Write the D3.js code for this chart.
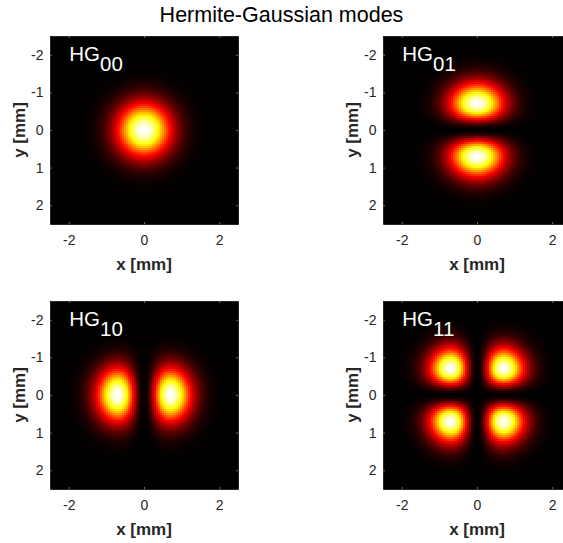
<!DOCTYPE html>
<html>
<head>
<meta charset="utf-8">
<script src="https://cdn.jsdelivr.net/npm/d3@7"></script>
<style>
  body { margin: 0; background: #fff; overflow: hidden; }
  text { font-family: "Liberation Sans", Arial, Helvetica, sans-serif; }
</style>
</head>
<body>
<script>
///////////////////   Data   /////////////////

var modeNames = ["00", "01", "10", "11"];
var modeM = [0, 0, 1, 1];          // order along x
var modeN = [0, 1, 0, 1];          // order along y
var waist = 1.0;                   // beam waist w [mm]
var extent = [-2.5, 2.5];          // image extent [mm]
var gridCells = 94;                // samples per side
var xTicks = [-2, 0, 2];
var yTicks = [-2, -1, 0, 1, 2];
var titleText = "Hermite-Gaussian modes";

///////////////////   Layout   /////////////////

var W = 563, H = 543,
    side = 188,
    colX = [50, 383],
    rowY = [36, 301];

var svg = d3.select("body").append("svg")
    .attr("width", W)
    .attr("height", H);

svg.append("text")
    .attr("x", 281.5)
    .attr("y", 22)
    .attr("text-anchor", "middle")
    .style("font-size", "21.5px")
    .style("fill", "#000")
    .text(titleText);

// MATLAB "hot" colormap
var hot = d3.scaleLinear()
    .domain([0, 3 / 8, 3 / 4, 1])
    .range(["#000000", "#ff0000", "#ffff00", "#ffffff"])
    .clamp(true);

function hermite(n, u) {
    if (n === 0) return 1;
    if (n === 1) return 2 * u;
    return 2 * u * hermite(n - 1, u) - 2 * (n - 1) * hermite(n - 2, u);
}

function modeGrid(m, n) {
    var d = (extent[1] - extent[0]) / gridCells, cells = [], max = 0;
    for (var j = 0; j < gridCells; j++) {
        for (var i = 0; i < gridCells; i++) {
            var x = extent[0] + (i + 0.5) * d,
                y = extent[0] + (j + 0.5) * d;
            var a = hermite(m, Math.SQRT2 * x / waist) * hermite(n, Math.SQRT2 * y / waist);
            var v = a * a * Math.exp(-2 * (x * x + y * y) / (waist * waist));
            max = Math.max(max, v);
            cells.push({ x0: x - d / 2, x1: x + d / 2, y0: y - d / 2, y1: y + d / 2, v: v });
        }
    }
    cells.forEach(function (c) { c.v /= max; });
    return cells;
}

modeNames.forEach(function (name, k) {
    var ox = colX[k % 2], oy = rowY[Math.floor(k / 2)];
    var x = d3.scaleLinear().domain(extent).range([0, side]);
    var y = d3.scaleLinear().domain(extent).range([0, side]);   // y increases downward

    var g = svg.append("g").attr("transform", "translate(" + ox + "," + oy + ")");

    g.append("rect")
        .attr("width", side).attr("height", side)
        .style("fill", "#000");

    // image cells, slightly enlarged so no seams show between them
    g.append("g")
        .attr("shape-rendering", "crispEdges")
        .selectAll("rect")
        .data(modeGrid(modeM[k], modeN[k]))
        .enter().append("rect")
        .attr("x", function (d) { return x(d.x0); })
        .attr("y", function (d) { return y(d.y0); })
        .attr("width", function (d) { return Math.min(x(d.x1) + 1, side) - x(d.x0); })
        .attr("height", function (d) { return Math.min(y(d.y1) + 1, side) - y(d.y0); })
        .style("fill", function (d) { return hot(d.v); });

    // axes: labels on bottom/left, bare ticks on top/right
    var fmt = function (d) { return String(d); };
    var bottom = g.append("g").attr("transform", "translate(0," + side + ")")
        .call(d3.axisBottom(x).tickValues(xTicks).tickSize(-2).tickSizeOuter(0).tickPadding(11)
            .tickFormat(fmt));
    var left = g.append("g")
        .call(d3.axisLeft(y).tickValues(yTicks).tickSize(-2).tickSizeOuter(0).tickPadding(6.5)
            .tickFormat(fmt));
    var top = g.append("g")
        .call(d3.axisTop(x).tickValues(xTicks).tickSize(-2).tickSizeOuter(0).tickFormat(""));
    var right = g.append("g").attr("transform", "translate(" + side + ",0)")
        .call(d3.axisRight(y).tickValues(yTicks).tickSize(-2).tickSizeOuter(0).tickFormat(""));

    [top, right].forEach(function (a) { a.selectAll(".tick text").remove(); });

    [bottom, left, top, right].forEach(function (a) {
        a.select(".domain").attr("stroke", "#262626");
        a.selectAll(".tick line").attr("stroke", "#6a6a6a");
        a.selectAll(".tick text")
            .style("font-size", "14px")
            .style("font-family", "Liberation Sans, Arial, sans-serif")
            .attr("fill", "#262626");
    });

    g.append("text")
        .attr("x", side / 2)
        .attr("y", side + 46)
        .attr("text-anchor", "middle")
        .style("font-size", "17px")
        .style("font-weight", "bold")
        .style("fill", "#262626")
        .text("x [mm]");

    g.append("text")
        .attr("transform", "translate(-25," + side / 2 + ") rotate(-90)")
        .attr("text-anchor", "middle")
        .style("font-size", "17px")
        .style("font-weight", "bold")
        .style("fill", "#262626")
        .text("y [mm]");

    var lab = g.append("text")
        .attr("x", x(-2) + 0.5)
        .attr("y", y(-2) + 6.5)
        .style("font-size", "20.5px")
        .style("fill", "#fff")
        .text("HG");
    lab.append("tspan")
        .attr("dy", 10)
        .text(name);
});
</script>
</body>
</html>
